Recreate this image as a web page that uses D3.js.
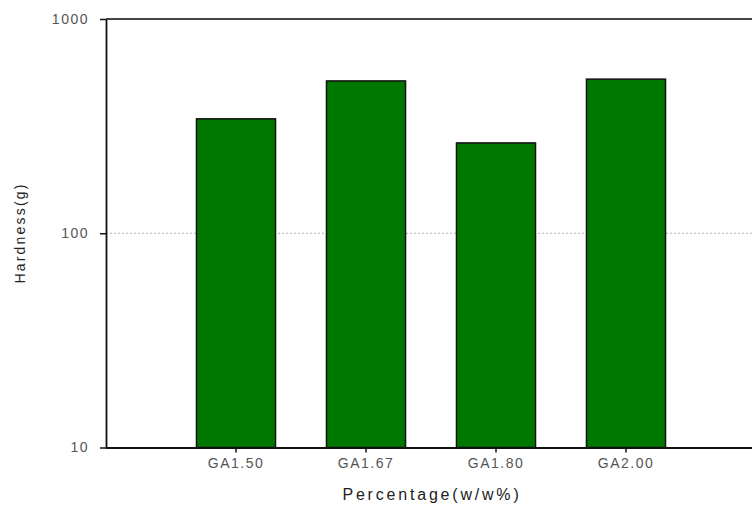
<!DOCTYPE html>
<html>
<head>
<meta charset="utf-8">
<script src="https://cdn.jsdelivr.net/npm/d3@7"></script>
<style>
  html, body { margin: 0; padding: 0; background: #fff; }
  svg { display: block; }
  text { font-family: "Liberation Sans", Arial, sans-serif; }
</style>
</head>
<body>
<script>
// Hardness per formulation
const categories = ["GA1.50", "GA1.67", "GA1.80", "GA2.00"];
const hardness = [342, 514, 264, 524];
const yTickValues = [10, 100, 1000];

const W = 752, H = 511;
const plotLeft = 106, plotRight = 756, plotTop = 19, plotBottom = 447.5;

const svg = d3.select("body").append("svg")
  .attr("width", W).attr("height", H);

const x = d3.scaleBand()
  .domain(categories)
  .range([plotLeft, plotRight])
  .paddingInner(0.392)
  .paddingOuter(0.696);

const y = d3.scaleLog()
  .domain([10, 1000])
  .range([plotBottom, plotTop]);

// dotted reference line at each inner decade
svg.append("g")
  .selectAll("line")
  .data(yTickValues.filter(v => v > 10 && v < 1000))
  .join("line")
  .attr("x1", plotLeft).attr("x2", W)
  .attr("y1", d => y(d)).attr("y2", d => y(d))
  .attr("stroke", "#b0b0b0")
  .attr("stroke-width", 1)
  .attr("stroke-dasharray", "2,2");

// bars
svg.append("g")
  .selectAll("rect")
  .data(categories.map((c, i) => ({ c, v: hardness[i] })))
  .join("rect")
  .attr("x", d => x(d.c))
  .attr("width", x.bandwidth())
  .attr("y", d => y(d.v))
  .attr("height", d => y(10) - y(d.v))
  .attr("fill", "#007800")
  .attr("stroke", "#111")
  .attr("stroke-width", 1.5);

// top frame line
svg.append("line")
  .attr("x1", plotLeft).attr("x2", W)
  .attr("y1", plotTop).attr("y2", plotTop)
  .attr("stroke", "#444").attr("stroke-width", 1.8);

// y axis
const yAxis = d3.axisLeft(y)
  .tickValues(yTickValues)
  .tickFormat(d3.format("d"))
  .tickSize(6)
  .tickSizeOuter(0)
  .tickPadding(11);
const gy = svg.append("g")
  .attr("transform", `translate(${plotLeft},0)`)
  .call(yAxis);
gy.select(".domain").attr("stroke", "#111").attr("stroke-width", 1.8);
gy.selectAll(".tick line").attr("stroke", "#111").attr("stroke-width", 1.5);
gy.selectAll(".tick text")
  .attr("fill", "#555")
  .style("font-size", "14px")
  .style("letter-spacing", "1.5px");

// x axis
const xAxis = d3.axisBottom(x)
  .tickSize(5)
  .tickSizeOuter(0)
  .tickPadding(6);
const gx = svg.append("g")
  .attr("transform", `translate(0,${plotBottom})`)
  .call(xAxis);
gx.select(".domain")
  .attr("d", `M${plotLeft},0.5H${W}`)
  .attr("stroke", "#111").attr("stroke-width", 1.8);
gx.selectAll(".tick line").attr("stroke", "#111").attr("stroke-width", 1.5);
gx.selectAll(".tick text")
  .attr("fill", "#555")
  .style("font-size", "14px")
  .style("letter-spacing", "1.5px");

// axis titles
svg.append("text")
  .attr("x", 432).attr("y", 500)
  .attr("text-anchor", "middle")
  .attr("fill", "#222")
  .style("font-size", "16px")
  .style("letter-spacing", "2.8px")
  .text("Percentage(w/w%)");

svg.append("text")
  .attr("transform", "translate(25,233) rotate(-90)")
  .attr("text-anchor", "middle")
  .attr("fill", "#222")
  .style("font-size", "14px")
  .style("letter-spacing", "2.2px")
  .text("Hardness(g)");
</script>
</body>
</html>
